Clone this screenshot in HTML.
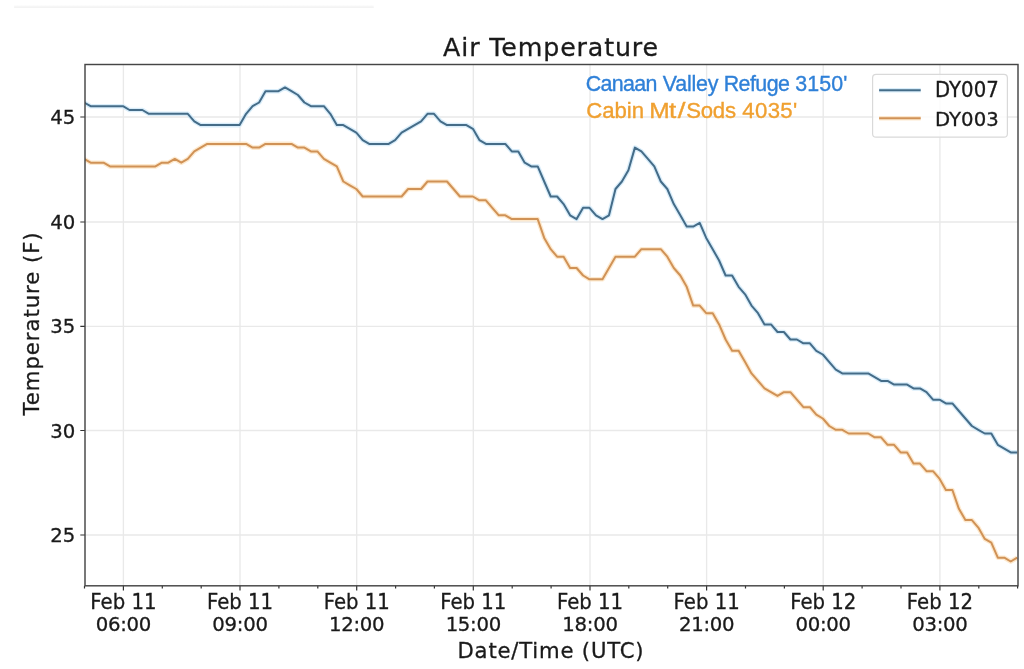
<!DOCTYPE html>
<html><head><meta charset="utf-8"><title>Air Temperature</title>
<style>html,body{margin:0;padding:0;background:#fff}svg{display:block}text{font-family:"DejaVu Sans","Liberation Sans",sans-serif;fill:#1a1a1a;stroke:#1a1a1a;stroke-width:0.3px}.ann{font-family:"Liberation Sans","DejaVu Sans",sans-serif}</style></head><body>
<svg width="1024" height="669" viewBox="0 0 1024 669">
<rect width="1024" height="669" fill="#ffffff"/>
<defs><linearGradient id="sh" x1="0" y1="0" x2="0" y2="1"><stop offset="0" stop-color="#ffffff"/><stop offset="0.5" stop-color="#f7f7f7"/><stop offset="1" stop-color="#eeeeee"/></linearGradient></defs>
<rect x="14.1" y="4.9" width="359.6" height="2.9" fill="url(#sh)"/>
<path d="M123.4,64.5 V585.8 M240.0,64.5 V585.8 M356.7,64.5 V585.8 M473.3,64.5 V585.8 M590.0,64.5 V585.8 M706.6,64.5 V585.8 M823.2,64.5 V585.8 M939.9,64.5 V585.8 M85.0,117.0 H1018.0 M85.0,222.0 H1018.0 M85.0,326.4 H1018.0 M85.0,430.5 H1018.0 M85.0,535.0 H1018.0" stroke="#e9e9e9" stroke-width="1.35" fill="none"/>
<clipPath id="ax"><rect x="85.0" y="64.5" width="933.0" height="521.3"/></clipPath>
<filter id="bl" x="-2%" y="-2%" width="104%" height="104%"><feGaussianBlur stdDeviation="0.45"/></filter>
<g fill="none" stroke-linejoin="round" stroke-linecap="butt" clip-path="url(#ax)">
<path d="M84.1,102.5 L90.6,106.2 L97.1,106.2 L103.5,106.2 L110.0,106.2 L116.5,106.2 L123.0,106.2 L129.5,110.0 L135.9,110.0 L142.4,110.0 L148.9,113.8 L155.4,113.8 L161.9,113.8 L168.3,113.8 L174.8,113.8 L181.3,113.8 L187.8,113.8 L194.3,121.3 L200.7,125.1 L207.2,125.1 L213.7,125.1 L220.2,125.1 L226.7,125.1 L233.1,125.1 L239.6,125.1 L246.1,113.8 L252.6,106.2 L259.1,102.5 L265.5,91.2 L272.0,91.2 L278.5,91.2 L285.0,87.4 L291.5,91.2 L297.9,95.0 L304.4,102.5 L310.9,106.2 L317.4,106.2 L323.9,106.2 L330.3,113.8 L336.8,125.1 L343.3,125.1 L349.8,128.8 L356.3,132.6 L362.7,140.1 L369.2,143.9 L375.7,143.9 L382.2,143.9 L388.7,143.9 L395.1,140.1 L401.6,132.6 L408.1,128.8 L414.6,125.1 L421.1,121.3 L427.5,113.8 L434.0,113.8 L440.5,121.3 L447.0,125.1 L453.5,125.1 L459.9,125.1 L466.4,125.1 L472.9,128.8 L479.4,140.1 L485.9,143.9 L492.3,143.9 L498.8,143.9 L505.3,143.9 L511.8,151.4 L518.3,151.4 L524.7,162.7 L531.2,166.4 L537.7,166.4 L544.2,181.5 L550.7,196.5 L557.1,196.5 L563.6,204.1 L570.1,215.3 L576.6,219.1 L583.1,207.8 L589.5,207.8 L596.0,215.3 L602.5,219.1 L609.0,215.3 L615.5,189.0 L621.9,181.5 L628.4,170.2 L634.9,147.6 L641.4,151.4 L647.9,158.9 L654.3,166.4 L660.8,181.5 L667.3,189.0 L673.8,204.1 L680.3,215.3 L686.7,226.6 L693.2,226.6 L699.7,222.9 L706.2,237.9 L712.7,249.2 L719.1,260.5 L725.6,275.5 L732.1,275.5 L738.6,286.8 L745.1,294.3 L751.5,305.6 L758.0,313.2 L764.5,324.4 L771.0,324.4 L777.5,332.0 L783.9,332.0 L790.4,339.5 L796.9,339.5 L803.4,343.3 L809.9,343.3 L816.3,350.8 L822.8,354.5 L829.3,362.1 L835.8,369.6 L842.3,373.4 L848.7,373.4 L855.2,373.4 L861.7,373.4 L868.2,373.4 L874.7,377.1 L881.1,380.9 L887.6,380.9 L894.1,384.6 L900.6,384.6 L907.1,384.6 L913.5,388.4 L920.0,388.4 L926.5,392.2 L933.0,399.7 L939.5,399.7 L945.9,403.4 L952.4,403.4 L958.9,411.0 L965.4,418.5 L971.9,426.0 L978.3,429.8 L984.8,433.5 L991.3,433.5 L997.8,444.8 L1004.3,448.6 L1010.7,452.4 L1017.2,452.4" stroke="#cfe9f9" stroke-width="4.6" opacity="0.8"/>
<path d="M84.1,158.9 L90.6,162.7 L97.1,162.7 L103.5,162.7 L110.0,166.4 L116.5,166.4 L123.0,166.4 L129.5,166.4 L135.9,166.4 L142.4,166.4 L148.9,166.4 L155.4,166.4 L161.9,162.7 L168.3,162.7 L174.8,158.9 L181.3,162.7 L187.8,158.9 L194.3,151.4 L200.7,147.6 L207.2,143.9 L213.7,143.9 L220.2,143.9 L226.7,143.9 L233.1,143.9 L239.6,143.9 L246.1,143.9 L252.6,147.6 L259.1,147.6 L265.5,143.9 L272.0,143.9 L278.5,143.9 L285.0,143.9 L291.5,143.9 L297.9,147.6 L304.4,147.6 L310.9,151.4 L317.4,151.4 L323.9,158.9 L330.3,162.7 L336.8,166.4 L343.3,181.5 L349.8,185.3 L356.3,189.0 L362.7,196.5 L369.2,196.5 L375.7,196.5 L382.2,196.5 L388.7,196.5 L395.1,196.5 L401.6,196.5 L408.1,189.0 L414.6,189.0 L421.1,189.0 L427.5,181.5 L434.0,181.5 L440.5,181.5 L447.0,181.5 L453.5,189.0 L459.9,196.5 L466.4,196.5 L472.9,196.5 L479.4,200.3 L485.9,200.3 L492.3,207.8 L498.8,215.3 L505.3,215.3 L511.8,219.1 L518.3,219.1 L524.7,219.1 L531.2,219.1 L537.7,219.1 L544.2,237.9 L550.7,249.2 L557.1,256.7 L563.6,256.7 L570.1,268.0 L576.6,268.0 L583.1,275.5 L589.5,279.3 L596.0,279.3 L602.5,279.3 L609.0,268.0 L615.5,256.7 L621.9,256.7 L628.4,256.7 L634.9,256.7 L641.4,249.2 L647.9,249.2 L654.3,249.2 L660.8,249.2 L667.3,256.7 L673.8,268.0 L680.3,275.5 L686.7,286.8 L693.2,305.6 L699.7,305.6 L706.2,313.2 L712.7,313.2 L719.1,324.4 L725.6,339.5 L732.1,350.8 L738.6,350.8 L745.1,362.1 L751.5,373.4 L758.0,380.9 L764.5,388.4 L771.0,392.2 L777.5,395.9 L783.9,392.2 L790.4,392.2 L796.9,399.7 L803.4,407.2 L809.9,407.2 L816.3,414.7 L822.8,418.5 L829.3,426.0 L835.8,429.8 L842.3,429.8 L848.7,433.5 L855.2,433.5 L861.7,433.5 L868.2,433.5 L874.7,437.3 L881.1,437.3 L887.6,444.8 L894.1,444.8 L900.6,452.4 L907.1,452.4 L913.5,463.6 L920.0,463.6 L926.5,471.2 L933.0,471.2 L939.5,478.7 L945.9,490.0 L952.4,490.0 L958.9,508.8 L965.4,520.1 L971.9,520.1 L978.3,527.6 L984.8,538.9 L991.3,542.6 L997.8,557.7 L1004.3,557.7 L1010.7,561.5 L1017.2,557.7" stroke="#fce3c2" stroke-width="4.6" opacity="0.8"/>
<path d="M84.1,102.5 L90.6,106.2 L97.1,106.2 L103.5,106.2 L110.0,106.2 L116.5,106.2 L123.0,106.2 L129.5,110.0 L135.9,110.0 L142.4,110.0 L148.9,113.8 L155.4,113.8 L161.9,113.8 L168.3,113.8 L174.8,113.8 L181.3,113.8 L187.8,113.8 L194.3,121.3 L200.7,125.1 L207.2,125.1 L213.7,125.1 L220.2,125.1 L226.7,125.1 L233.1,125.1 L239.6,125.1 L246.1,113.8 L252.6,106.2 L259.1,102.5 L265.5,91.2 L272.0,91.2 L278.5,91.2 L285.0,87.4 L291.5,91.2 L297.9,95.0 L304.4,102.5 L310.9,106.2 L317.4,106.2 L323.9,106.2 L330.3,113.8 L336.8,125.1 L343.3,125.1 L349.8,128.8 L356.3,132.6 L362.7,140.1 L369.2,143.9 L375.7,143.9 L382.2,143.9 L388.7,143.9 L395.1,140.1 L401.6,132.6 L408.1,128.8 L414.6,125.1 L421.1,121.3 L427.5,113.8 L434.0,113.8 L440.5,121.3 L447.0,125.1 L453.5,125.1 L459.9,125.1 L466.4,125.1 L472.9,128.8 L479.4,140.1 L485.9,143.9 L492.3,143.9 L498.8,143.9 L505.3,143.9 L511.8,151.4 L518.3,151.4 L524.7,162.7 L531.2,166.4 L537.7,166.4 L544.2,181.5 L550.7,196.5 L557.1,196.5 L563.6,204.1 L570.1,215.3 L576.6,219.1 L583.1,207.8 L589.5,207.8 L596.0,215.3 L602.5,219.1 L609.0,215.3 L615.5,189.0 L621.9,181.5 L628.4,170.2 L634.9,147.6 L641.4,151.4 L647.9,158.9 L654.3,166.4 L660.8,181.5 L667.3,189.0 L673.8,204.1 L680.3,215.3 L686.7,226.6 L693.2,226.6 L699.7,222.9 L706.2,237.9 L712.7,249.2 L719.1,260.5 L725.6,275.5 L732.1,275.5 L738.6,286.8 L745.1,294.3 L751.5,305.6 L758.0,313.2 L764.5,324.4 L771.0,324.4 L777.5,332.0 L783.9,332.0 L790.4,339.5 L796.9,339.5 L803.4,343.3 L809.9,343.3 L816.3,350.8 L822.8,354.5 L829.3,362.1 L835.8,369.6 L842.3,373.4 L848.7,373.4 L855.2,373.4 L861.7,373.4 L868.2,373.4 L874.7,377.1 L881.1,380.9 L887.6,380.9 L894.1,384.6 L900.6,384.6 L907.1,384.6 L913.5,388.4 L920.0,388.4 L926.5,392.2 L933.0,399.7 L939.5,399.7 L945.9,403.4 L952.4,403.4 L958.9,411.0 L965.4,418.5 L971.9,426.0 L978.3,429.8 L984.8,433.5 L991.3,433.5 L997.8,444.8 L1004.3,448.6 L1010.7,452.4 L1017.2,452.4" stroke="#446c88" stroke-width="2.0" filter="url(#bl)"/>
<path d="M84.1,158.9 L90.6,162.7 L97.1,162.7 L103.5,162.7 L110.0,166.4 L116.5,166.4 L123.0,166.4 L129.5,166.4 L135.9,166.4 L142.4,166.4 L148.9,166.4 L155.4,166.4 L161.9,162.7 L168.3,162.7 L174.8,158.9 L181.3,162.7 L187.8,158.9 L194.3,151.4 L200.7,147.6 L207.2,143.9 L213.7,143.9 L220.2,143.9 L226.7,143.9 L233.1,143.9 L239.6,143.9 L246.1,143.9 L252.6,147.6 L259.1,147.6 L265.5,143.9 L272.0,143.9 L278.5,143.9 L285.0,143.9 L291.5,143.9 L297.9,147.6 L304.4,147.6 L310.9,151.4 L317.4,151.4 L323.9,158.9 L330.3,162.7 L336.8,166.4 L343.3,181.5 L349.8,185.3 L356.3,189.0 L362.7,196.5 L369.2,196.5 L375.7,196.5 L382.2,196.5 L388.7,196.5 L395.1,196.5 L401.6,196.5 L408.1,189.0 L414.6,189.0 L421.1,189.0 L427.5,181.5 L434.0,181.5 L440.5,181.5 L447.0,181.5 L453.5,189.0 L459.9,196.5 L466.4,196.5 L472.9,196.5 L479.4,200.3 L485.9,200.3 L492.3,207.8 L498.8,215.3 L505.3,215.3 L511.8,219.1 L518.3,219.1 L524.7,219.1 L531.2,219.1 L537.7,219.1 L544.2,237.9 L550.7,249.2 L557.1,256.7 L563.6,256.7 L570.1,268.0 L576.6,268.0 L583.1,275.5 L589.5,279.3 L596.0,279.3 L602.5,279.3 L609.0,268.0 L615.5,256.7 L621.9,256.7 L628.4,256.7 L634.9,256.7 L641.4,249.2 L647.9,249.2 L654.3,249.2 L660.8,249.2 L667.3,256.7 L673.8,268.0 L680.3,275.5 L686.7,286.8 L693.2,305.6 L699.7,305.6 L706.2,313.2 L712.7,313.2 L719.1,324.4 L725.6,339.5 L732.1,350.8 L738.6,350.8 L745.1,362.1 L751.5,373.4 L758.0,380.9 L764.5,388.4 L771.0,392.2 L777.5,395.9 L783.9,392.2 L790.4,392.2 L796.9,399.7 L803.4,407.2 L809.9,407.2 L816.3,414.7 L822.8,418.5 L829.3,426.0 L835.8,429.8 L842.3,429.8 L848.7,433.5 L855.2,433.5 L861.7,433.5 L868.2,433.5 L874.7,437.3 L881.1,437.3 L887.6,444.8 L894.1,444.8 L900.6,452.4 L907.1,452.4 L913.5,463.6 L920.0,463.6 L926.5,471.2 L933.0,471.2 L939.5,478.7 L945.9,490.0 L952.4,490.0 L958.9,508.8 L965.4,520.1 L971.9,520.1 L978.3,527.6 L984.8,538.9 L991.3,542.6 L997.8,557.7 L1004.3,557.7 L1010.7,561.5 L1017.2,557.7" stroke="#d09257" stroke-width="2.0" filter="url(#bl)"/>
</g>
<path d="M84.5,585.8 v2.8 M123.4,585.8 v4.7 M162.3,585.8 v2.8 M201.2,585.8 v2.8 M240.0,585.8 v4.7 M278.9,585.8 v2.8 M317.8,585.8 v2.8 M356.7,585.8 v4.7 M395.6,585.8 v2.8 M434.4,585.8 v2.8 M473.3,585.8 v4.7 M512.2,585.8 v2.8 M551.1,585.8 v2.8 M590.0,585.8 v4.7 M628.8,585.8 v2.8 M667.7,585.8 v2.8 M706.6,585.8 v4.7 M745.5,585.8 v2.8 M784.4,585.8 v2.8 M823.2,585.8 v4.7 M862.1,585.8 v2.8 M901.0,585.8 v2.8 M939.9,585.8 v4.7 M978.8,585.8 v2.8 M1017.6,585.8 v2.8 M85.0,117.0 h-4.7 M85.0,222.0 h-4.7 M85.0,326.4 h-4.7 M85.0,430.5 h-4.7 M85.0,535.0 h-4.7" stroke="#333" stroke-width="1.2" fill="none"/>
<rect x="85.0" y="64.5" width="933.0" height="521.3" fill="none" stroke="#464646" stroke-width="1.45"/>
<text x="75.3" y="124.0" font-size="19.70" text-anchor="end">45</text>
<text x="75.3" y="229.0" font-size="19.70" text-anchor="end">40</text>
<text x="75.3" y="333.4" font-size="19.70" text-anchor="end">35</text>
<text x="75.3" y="437.5" font-size="19.70" text-anchor="end">30</text>
<text x="75.3" y="542.0" font-size="19.70" text-anchor="end">25</text>
<text transform="translate(123.4,608.6) scale(1,1.04)" font-size="19.70" text-anchor="middle">Feb 11</text>
<text x="123.4" y="631.4" font-size="19.70" text-anchor="middle" letter-spacing="-0.28">06:00</text>
<text transform="translate(240.0,608.6) scale(1,1.04)" font-size="19.70" text-anchor="middle">Feb 11</text>
<text x="240.0" y="631.4" font-size="19.70" text-anchor="middle" letter-spacing="-0.28">09:00</text>
<text transform="translate(356.7,608.6) scale(1,1.04)" font-size="19.70" text-anchor="middle">Feb 11</text>
<text x="356.7" y="631.4" font-size="19.70" text-anchor="middle" letter-spacing="-0.28">12:00</text>
<text transform="translate(473.3,608.6) scale(1,1.04)" font-size="19.70" text-anchor="middle">Feb 11</text>
<text x="473.3" y="631.4" font-size="19.70" text-anchor="middle" letter-spacing="-0.28">15:00</text>
<text transform="translate(590.0,608.6) scale(1,1.04)" font-size="19.70" text-anchor="middle">Feb 11</text>
<text x="590.0" y="631.4" font-size="19.70" text-anchor="middle" letter-spacing="-0.28">18:00</text>
<text transform="translate(706.6,608.6) scale(1,1.04)" font-size="19.70" text-anchor="middle">Feb 11</text>
<text x="706.6" y="631.4" font-size="19.70" text-anchor="middle" letter-spacing="-0.28">21:00</text>
<text transform="translate(823.2,608.6) scale(1,1.04)" font-size="19.70" text-anchor="middle">Feb 12</text>
<text x="823.2" y="631.4" font-size="19.70" text-anchor="middle" letter-spacing="-0.28">00:00</text>
<text transform="translate(939.9,608.6) scale(1,1.04)" font-size="19.70" text-anchor="middle">Feb 12</text>
<text x="939.9" y="631.4" font-size="19.70" text-anchor="middle" letter-spacing="-0.28">03:00</text>
<text x="457.5" y="657.5" font-size="21.2" letter-spacing="0.8">Date/Time (UTC)</text>
<text transform="translate(38.9,415.5) rotate(-90)" font-size="21.2" letter-spacing="0.96">Temperature (F)</text>
<text x="443.1" y="56.2" font-size="25.3" letter-spacing="0.855">Air Temperature</text>
<g font-size="21.40"><text class="ann" style="fill:#2f80d8;stroke:#2f80d8;stroke-width:0.35px" transform="translate(585.80,91.1) scale(1.000,1)" letter-spacing="-0.665">Canaan </text><text class="ann" style="fill:#2f80d8;stroke:#2f80d8;stroke-width:0.35px" transform="translate(662.74,91.1) scale(1.000,1)" letter-spacing="-0.217">Valley </text><text class="ann" style="fill:#2f80d8;stroke:#2f80d8;stroke-width:0.35px" transform="translate(723.72,91.1) scale(1.000,1)" letter-spacing="-0.556">Refuge </text><text class="ann" style="fill:#2f80d8;stroke:#2f80d8;stroke-width:0.35px" transform="translate(795.15,91.1) scale(1.000,1)" letter-spacing="0.146">3150&#39;</text></g>
<g font-size="22.20"><text class="ann" style="fill:#f0a030;stroke:#f0a030;stroke-width:0.35px" transform="translate(586.27,118.2) scale(1.000,1)" letter-spacing="-0.056">Cabin </text><text class="ann" style="fill:#f0a030;stroke:#f0a030;stroke-width:0.35px" transform="translate(649.21,118.2) scale(1.106,1)" letter-spacing="0.000">M</text><text class="ann" style="fill:#f0a030;stroke:#f0a030;stroke-width:0.35px" transform="translate(668.99,118.2) scale(1.169,1)" letter-spacing="0.000">t</text><text class="ann" style="fill:#f0a030;stroke:#f0a030;stroke-width:0.35px" transform="translate(677.72,118.2) scale(1.250,1)" letter-spacing="0.000">/</text><text class="ann" style="fill:#f0a030;stroke:#f0a030;stroke-width:0.35px" transform="translate(686.18,118.2) scale(1.000,1)" letter-spacing="-0.224">Sods </text><text class="ann" style="fill:#f0a030;stroke:#f0a030;stroke-width:0.35px" transform="translate(742.35,118.2) scale(1.000,1)" letter-spacing="0.334">4035&#39;</text></g>
<rect x="872.6" y="74.4" width="134.8" height="62.8" rx="3.5" fill="#ffffff" fill-opacity="0.8" stroke="#d9d9d9" stroke-width="1.2"/>
<path d="M879.1,90.2 H920.7" stroke="#cfe9f9" stroke-width="4.6" opacity="0.8"/><path d="M879.1,118.3 H920.7" stroke="#fce3c2" stroke-width="4.6" opacity="0.8"/>
<path d="M879.1,90.2 H920.7" stroke="#446c88" stroke-width="2.0"/><path d="M879.1,118.3 H920.7" stroke="#d09257" stroke-width="2.0"/>
<text transform="translate(935.0,96.6) scale(1,1.05)" font-size="19.70">DY007</text>
<text transform="translate(935.0,125.8) scale(1,1.0)" font-size="19.70">DY003</text>
</svg></body></html>
